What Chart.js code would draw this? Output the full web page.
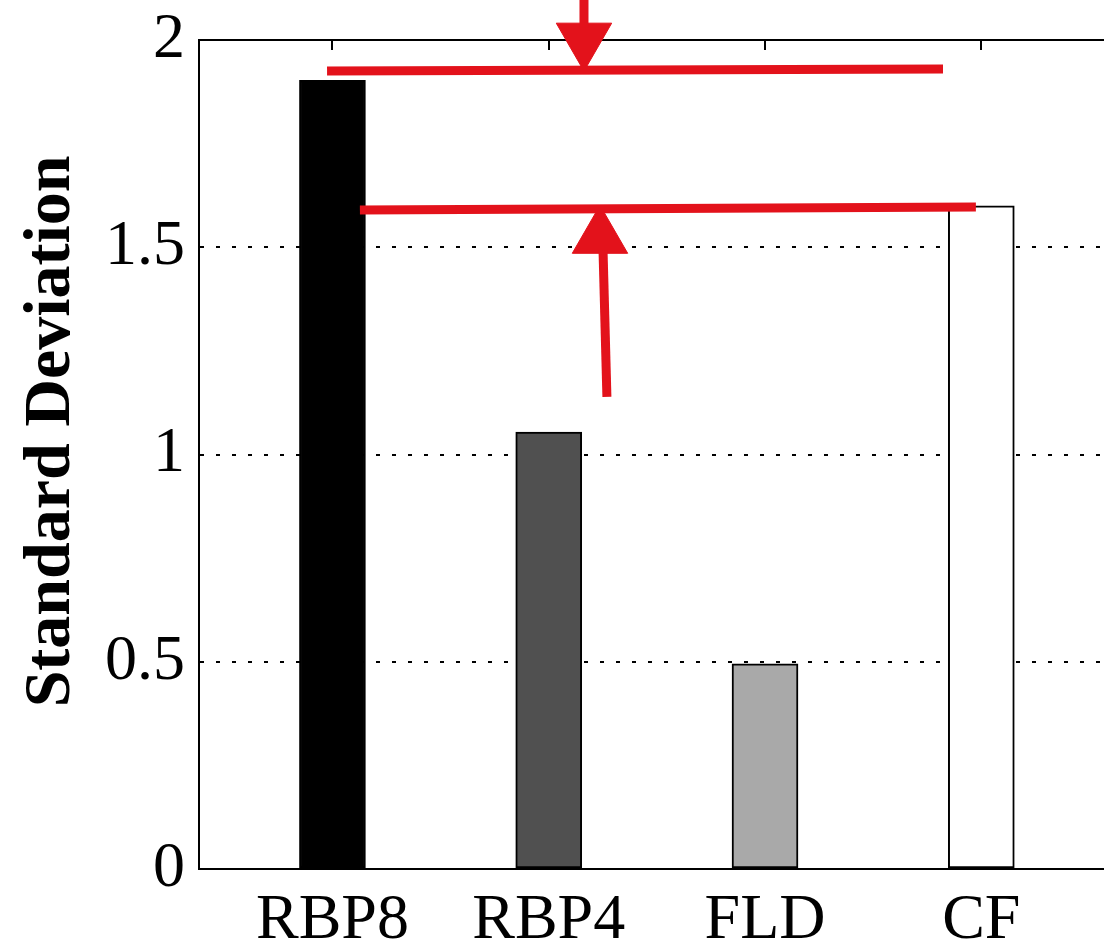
<!DOCTYPE html>
<html>
<head>
<meta charset="utf-8">
<script src="https://cdn.jsdelivr.net/npm/chart.js@4/dist/chart.umd.min.js"></script>
<style>
  html, body { margin: 0; padding: 0; background: #fff; overflow: hidden; }
  #wrap { width: 1200px; height: 945px; }
</style>
</head>
<body>
<div id="wrap"><canvas id="c" width="1200" height="945"></canvas></div>
<script>
// ---- data ----
const categories = ['RBP8', 'RBP4', 'FLD', 'CF'];
const stdValues = [1.903, 1.054, 0.495, 1.60];
const barColors = ['#000000', '#505050', '#a9a9a9', '#ffffff'];
const yTickValues = [0, 0.5, 1, 1.5, 2];
const yTickLabels = ['0', '0.5', '1', '1.5', '2'];
const yTitle = 'Standard Deviation';

// red annotation marks (data coordinates)
const upperLineX = [0.975, 3.823];
const upperLineY = [1.925, 1.930];
const lowerLineX = [1.127, 3.975];
const lowerLineY = [1.590, 1.597];
const downArrowShaftX = [2.163, 2.163];
const downArrowShaftY = [2.12, 2.03];
const downArrowHead = { x: 2.163, y: 2.002 };
const upArrowShaftX = [2.251, 2.269];
const upArrowShaftY = [1.493, 1.139];
const upArrowHead = { x: 2.237, y: 1.524 };

const RED = '#e3121b';
const FONT = '"Liberation Serif", "Times New Roman", serif';

const pts = (xs, ys) => xs.map((x, i) => ({ x: x, y: ys[i] }));

function redLine(xs, ys) {
  return {
    type: 'line', data: pts(xs, ys), borderColor: RED, borderWidth: 9,
    borderCapStyle: 'butt', pointRadius: 0, clip: false, order: 0, fill: false
  };
}
function redHead(p, rot) {
  return {
    type: 'line', data: [p], showLine: false, pointStyle: 'triangle',
    pointRadius: 32, pointRotation: rot, pointBackgroundColor: RED,
    pointBorderColor: RED, pointBorderWidth: 1, clip: false, order: 0
  };
}

const xMin = 0.383, xMax = 4.78;

new Chart(document.getElementById('c'), {
  type: 'bar',
  data: {
    datasets: [
      redLine(upperLineX, upperLineY),
      redLine(lowerLineX, lowerLineY),
      redLine(downArrowShaftX, downArrowShaftY),
      redHead(downArrowHead, 180),
      redLine(upArrowShaftX, upArrowShaftY),
      redHead(upArrowHead, 0),
      {
        type: 'bar',
        data: stdValues.map((v, i) => ({ x: i + 1, y: v })),
        backgroundColor: barColors,
        borderColor: '#000000',
        borderWidth: 2,
        borderSkipped: false,
        barThickness: 66,
        order: 10
      }
    ]
  },
  options: {
    responsive: false,
    animation: false,
    layout: { padding: { left: 0, top: 40, right: 50, bottom: 0 } },
    plugins: { legend: { display: false }, tooltip: { enabled: false } },
    scales: {
      x: {
        type: 'linear', position: 'bottom', min: xMin, max: xMax, offset: false,
        afterFit: s => { s.height = 76; },
        afterBuildTicks: s => { s.ticks = categories.map((c, i) => ({ value: i + 1 })); },
        grid: { display: false, offset: false },
        border: { display: true, color: '#000', width: 2 },
        ticks: {
          autoSkip: false, maxRotation: 0, padding: 6, color: '#000',
          font: { family: FONT, size: 64 },
          callback: v => categories[v - 1] ?? ''
        }
      },
      xTop: {
        type: 'linear', position: 'top', min: xMin, max: xMax, offset: false,
        afterFit: s => { s.height = 0; },
        afterBuildTicks: s => { s.ticks = categories.map((c, i) => ({ value: i + 1 })); },
        grid: { display: true, offset: false, drawOnChartArea: false, drawTicks: true, tickLength: -10, color: '#000', lineWidth: 2 },
        border: { display: true, color: '#000', width: 2 },
        ticks: { display: false }
      },
      y: {
        type: 'linear', min: 0, max: 2,
        afterFit: s => { s.width = 199; },
        afterBuildTicks: s => { s.ticks = yTickValues.map(v => ({ value: v })); },
        grid: {
          drawTicks: false, lineWidth: 2,
          color: c => (c.tick && (c.tick.value === 0 || c.tick.value === 2)) ? 'rgba(0,0,0,0)' : '#000'
        },
        border: { display: true, color: '#000', width: 2, dash: [4, 12] },
        ticks: {
          padding: 14, color: '#000',
          font: { family: FONT, size: 64, lineHeight: 0.5 },
          callback: (v) => { const i = yTickValues.indexOf(v); return i >= 0 ? yTickLabels[i] : ''; }
        },
        title: {
          display: true, text: '\u2002\u2009' + yTitle, color: '#000',
          font: { family: FONT, size: 66, weight: 'bold' },
          padding: { top: 12, bottom: 0 }
        }
      }
    }
  }
});
</script>
</body>
</html>
